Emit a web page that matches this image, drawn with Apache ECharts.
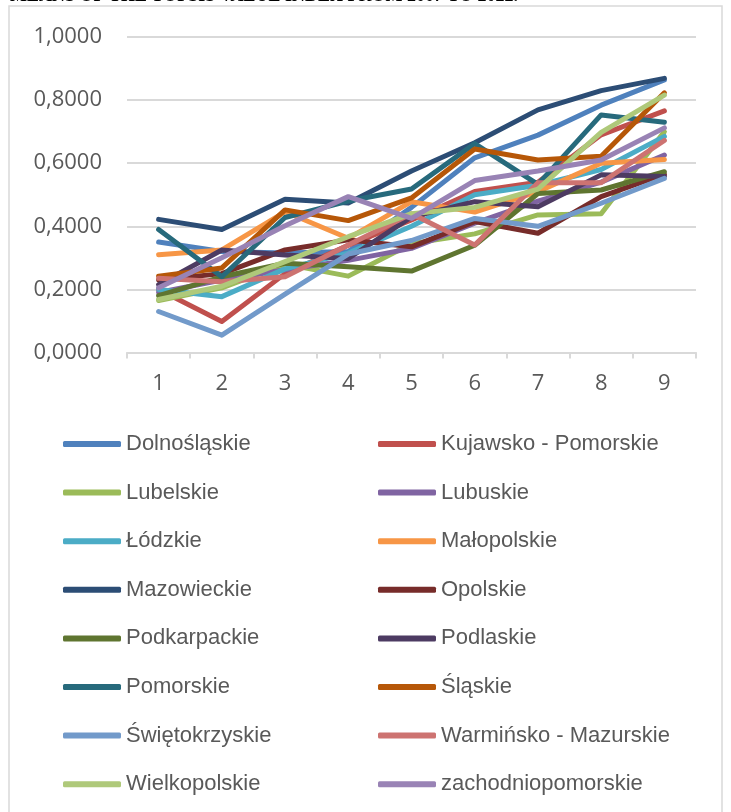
<!DOCTYPE html>
<html>
<head>
<meta charset="utf-8">
<script src="https://cdn.jsdelivr.net/npm/echarts@6/dist/echarts.min.js"></script>
<style>
  html, body { margin: 0; padding: 0; background: #fff; }
  #main { width: 731px; height: 812px; }
</style>
</head>
<body>
<div id="main"></div>
<script>
// x categories
var categories = ['1', '2', '3', '4', '5', '6', '7', '8', '9'];

// series values
var dolnoslaskie = [0.350, 0.320, 0.315, 0.320, 0.460, 0.617, 0.689, 0.784, 0.864];
var kujawsko = [0.200, 0.098, 0.250, 0.340, 0.420, 0.510, 0.540, 0.690, 0.766];
var lubelskie = [0.165, 0.205, 0.280, 0.242, 0.345, 0.376, 0.436, 0.440, 0.700];
var lubuskie = [0.190, 0.230, 0.262, 0.292, 0.330, 0.410, 0.480, 0.540, 0.626];
var lodzkie = [0.200, 0.177, 0.265, 0.315, 0.400, 0.500, 0.530, 0.580, 0.685];
var malopolskie = [0.310, 0.325, 0.446, 0.362, 0.478, 0.445, 0.510, 0.600, 0.612];
var mazowieckie = [0.422, 0.390, 0.486, 0.474, 0.575, 0.665, 0.769, 0.830, 0.869];
var opolskie = [0.230, 0.250, 0.325, 0.357, 0.335, 0.415, 0.378, 0.494, 0.565];
var podkarpackie = [0.180, 0.240, 0.283, 0.272, 0.258, 0.340, 0.504, 0.515, 0.573];
var podlaskie = [0.215, 0.325, 0.309, 0.298, 0.430, 0.478, 0.462, 0.563, 0.558];
var pomorskie = [0.390, 0.240, 0.428, 0.480, 0.518, 0.662, 0.533, 0.753, 0.730];
var slaskie = [0.242, 0.268, 0.452, 0.418, 0.490, 0.645, 0.610, 0.622, 0.823];
var swietokrzyskie = [0.130, 0.055, 0.185, 0.312, 0.355, 0.425, 0.400, 0.473, 0.552];
var warminsko = [0.235, 0.224, 0.240, 0.341, 0.440, 0.341, 0.538, 0.538, 0.672];
var wielkopolskie = [0.168, 0.210, 0.288, 0.367, 0.440, 0.460, 0.518, 0.698, 0.816];
var zachodniopomorskie = [0.205, 0.300, 0.402, 0.494, 0.425, 0.545, 0.575, 0.610, 0.712];

// y tick labels
var yTicks = [0, 0.2, 0.4, 0.6, 0.8, 1.0];

var names = ['Dolnośląskie', 'Kujawsko - Pomorskie', 'Lubelskie', 'Lubuskie', 'Łódzkie', 'Małopolskie',
  'Mazowieckie', 'Opolskie', 'Podkarpackie', 'Podlaskie', 'Pomorskie', 'Śląskie',
  'Świętokrzyskie', 'Warmińsko - Mazurskie', 'Wielkopolskie', 'zachodniopomorskie'];
var values = [dolnoslaskie, kujawsko, lubelskie, lubuskie, lodzkie, malopolskie,
  mazowieckie, opolskie, podkarpackie, podlaskie, pomorskie, slaskie,
  swietokrzyskie, warminsko, wielkopolskie, zachodniopomorskie];
var colors = ['#4F81BD', '#C0504D', '#9BBB59', '#8064A2', '#4BACC6', '#F79646',
  '#2C4D75', '#772C2A', '#5F7530', '#4D3B62', '#276A7C', '#B65708',
  '#729ACA', '#CD7371', '#AFC97A', '#9983B5'];

var series = [];
for (let i = 0; i < names.length; i++) {
  series.push({
    name: names[i],
    type: 'line',
    data: values[i],
    symbol: 'none',
    lineStyle: { width: 5, color: colors[i], cap: 'round', join: 'round' },
    itemStyle: { color: colors[i] }
  });
}

var leftNames = names.filter(function (n, i) { return i % 2 === 0 });
var rightNames = names.filter(function (n, i) { return i % 2 === 1 });

var legendText = {
  fontFamily: "'Liberation Sans', sans-serif",
  fontSize: 22,
  color: '#595959',
  lineHeight: 26
};

function makeLegend(data, left) {
  return {
    data: data,
    orient: 'vertical',
    left: left,
    top: 426,
    itemWidth: 58,
    itemHeight: 6,
    itemGap: 22.6,
    icon: 'roundRect',
    textStyle: legendText,
    selectedMode: false
  };
}

var chart = echarts.init(document.getElementById('main'), null, { renderer: 'canvas' });

var option = {
  backgroundColor: '#fff',
  animation: false,
  color: colors,
  grid: { left: 127, right: 35, top: 37, bottom: 459.5, containLabel: false },
  legend: [makeLegend(leftNames, 58), makeLegend(rightNames, 373)],
  xAxis: {
    type: 'category',
    data: categories,
    boundaryGap: true,
    axisLine: { lineStyle: { color: '#d9d9d9', width: 2 } },
    axisTick: { show: true, interval: 0, length: 6, lineStyle: { color: '#d9d9d9', width: 2 } },
    axisLabel: { margin: 20, fontFamily: "'Open Sans', sans-serif", fontSize: 22, color: '#595959' }
  },
  yAxis: {
    type: 'value',
    min: yTicks[0],
    max: yTicks[yTicks.length - 1],
    interval: 0.2,
    axisLine: { show: false },
    axisTick: { show: false },
    splitLine: { lineStyle: { color: '#d9d9d9', width: 2 } },
    axisLabel: {
      margin: 25,
      fontFamily: "'Open Sans', sans-serif",
      fontSize: 22,
      color: '#595959',
      formatter: function (v) { return v.toFixed(4).replace('.', ',') }
    }
  },
  graphic: [
    {
      type: 'rect',
      shape: { x: 9, y: 6, width: 713, height: 830 },
      style: { fill: 'none', stroke: '#d9d9d9', lineWidth: 1.5 },
      silent: true
    },
    {
      // title sits mostly above the page edge, only its foot shows
      type: 'text',
      x: 10,
      y: -13,
      style: {
        text: 'MEANS OF THE TOPSIS VALUE INDEX FROM 2007 TO 2022.',
        font: "bold 18px 'Liberation Serif', serif",
        fill: '#000'
      },
      silent: true
    }
  ],
  series: series
};

chart.setOption(option);
</script>
</body>
</html>
